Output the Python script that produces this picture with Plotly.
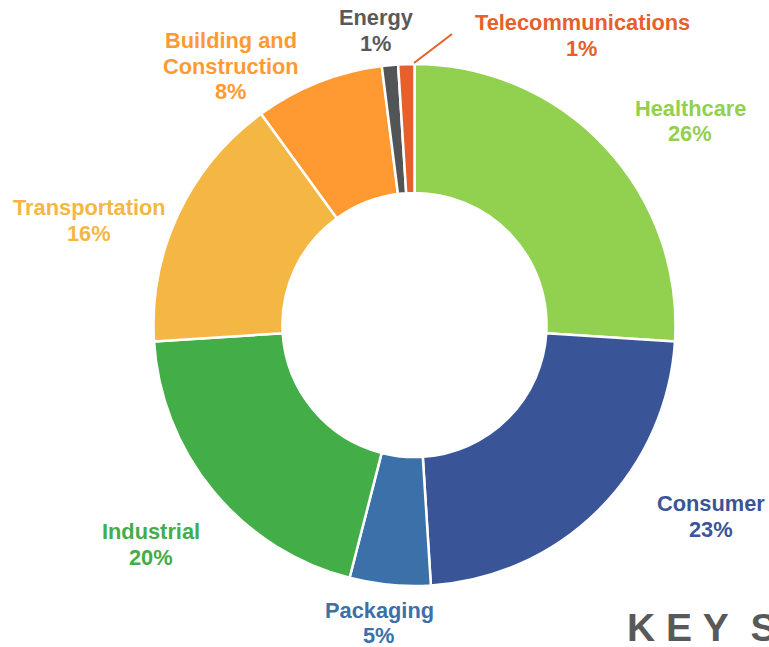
import plotly.graph_objects as go

# ---- data ----
sectors = ["Healthcare", "Consumer", "Packaging", "Industrial", "Transportation",
           "Building and Construction", "Energy", "Telecommunications"]
shares = [26, 23, 5, 20, 16, 8, 1, 1]
label_texts = [["Healthcare"], ["Consumer"], ["Packaging"], ["Industrial"], ["Transportation"],
               ["Building and", "Construction"], ["Energy"], ["Telecommunications"]]

# ---- styles ----
slice_colors = ["#92D050", "#3A5597", "#3C70A8", "#43AD48", "#F5B744",
                "#FF9A33", "#515556", "#E5602B"]
text_colors = ["#92D050", "#3A5597", "#3C70A8", "#43AD48", "#F5B744",
               "#FF9A33", "#595959", "#E5602B"]
# label anchor (center x, first line center y) in pixels
label_pos = [(690, 108), (711, 503.5), (379, 610), (151, 531.5), (89, 207.5),
             (231, 40.3), (376, 17.5), (582, 22.5)]

W, H = 769, 647
def px(x):
    return x / W
def py(y):
    return 1 - y / H

cx, cy, R = 414.5, 325, 261

fig = go.Figure(go.Pie(
    labels=sectors, values=shares, sort=False, direction="clockwise", rotation=0,
    hole=0.506, textinfo="none", hoverinfo="label+percent",
    marker=dict(colors=slice_colors, line=dict(color="white", width=2.5)),
    domain=dict(x=[px(cx - R), px(cx + R)], y=[py(cy + R), py(cy - R)]),
    showlegend=False,
))

FONT = "Liberation Sans, Arial, sans-serif"
LINE = 25.7
for name_lines, share, (x, y), col in zip(label_texts, shares, label_pos, text_colors):
    lines = name_lines + [f"{share}%"]
    for i, t in enumerate(lines):
        fig.add_annotation(x=px(x), y=py(y + i * LINE), xref="paper", yref="paper",
                           text=t, showarrow=False, xanchor="center", yanchor="middle",
                           font=dict(family=FONT, size=21.8, color=col, weight="bold"))

# leader line for Telecommunications
fig.add_shape(type="line", xref="paper", yref="paper",
              x0=px(414), y0=py(63), x1=px(452), y1=py(34),
              line=dict(color="#E5602B", width=2))

# partially visible heading at bottom right (cut by the picture edge, as in the reference)
fig.add_annotation(x=px(625), y=py(627), xref="paper", yref="paper",
                   text="K\u00a0E\u00a0Y\u00a0\u00a0S", showarrow=False,
                   xanchor="left", yanchor="middle",
                   font=dict(family=FONT, size=39, color="#595959", weight="bold"))

fig.update_layout(width=W, height=H, margin=dict(l=0, r=0, t=0, b=0),
                  paper_bgcolor="white", plot_bgcolor="white")
fig.write_html("out.html", config={"displayModeBar": False},
               post_script="document.body.style.margin='0';document.body.style.overflow='hidden';")
